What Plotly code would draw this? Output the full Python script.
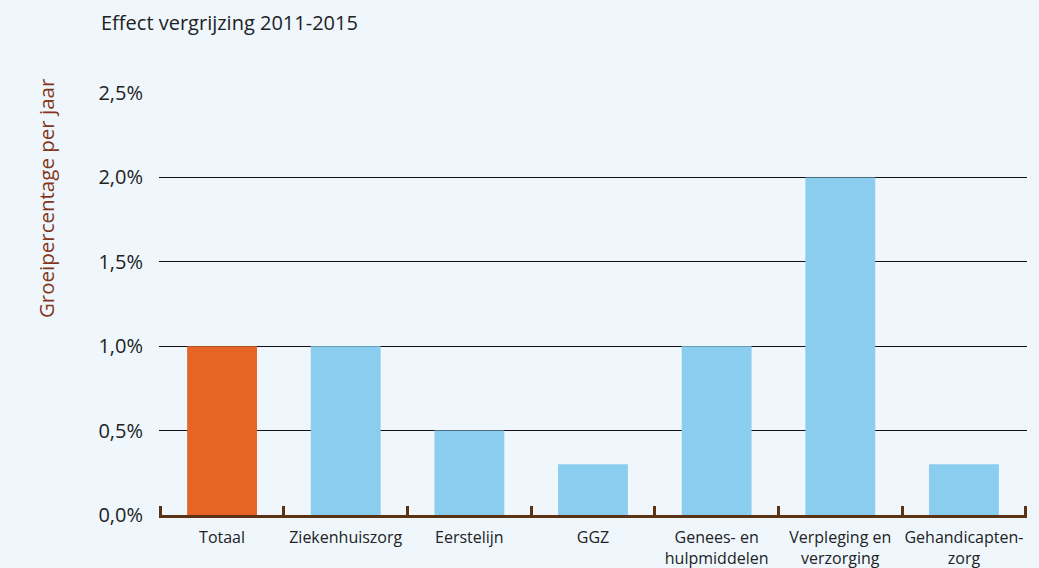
import plotly.graph_objects as go

categories = ["Totaal", "Ziekenhuiszorg", "Eerstelijn", "GGZ",
              "Genees- en<br>hulpmiddelen", "Verpleging en<br>verzorging",
              "Gehandicapten-<br>zorg"]
values = [1.0, 1.0, 0.5, 0.3, 1.0, 2.0, 0.3]
bar_colors = ["#e66526", "#8bcdee", "#8bcdee", "#8bcdee", "#8bcdee", "#8bcdee", "#8bcdee"]
y_tickvals = [0, 0.5, 1.0, 1.5, 2.0, 2.5]
y_ticktext = ["0,0%", "0,5%", "1,0%", "1,5%", "2,0%", "2,5%"]

bg = "#eff7fd"
font_family = "Open Sans, Noto Sans, sans-serif"

fig = go.Figure(go.Bar(
    x=categories, y=values, marker_color=bar_colors, marker_line_width=0,
    hoverinfo="x+y",
))

fig.update_layout(
    width=1039, height=568,
    paper_bgcolor=bg, plot_bgcolor=bg,
    margin=dict(l=159, r=12, t=93, b=53, autoexpand=False),
    bargap=0.435,
    showlegend=False,
    font=dict(family=font_family, color="#222222"),
    annotations=[
        dict(
            text="Effect vergrijzing 2011-2015", xref="paper", yref="paper",
            x=-0.069, y=1.0, yshift=71, xanchor="left", yanchor="middle",
            showarrow=False, font=dict(size=20, color="#222222", family=font_family),
        ),
        dict(
            text="Groeipercentage per jaar", xref="paper", yref="paper",
            x=0, xshift=-113, y=0.751, xanchor="center", yanchor="middle",
            textangle=-90, showarrow=False,
            font=dict(size=20.5, color="#833619", family=font_family),
        ),
    ],
)

fig.update_xaxes(
    range=[-0.51, 6.51], automargin=False, tickangle=0,
    showline=True, linecolor="#5a3314", linewidth=3,
    ticks="inside", tickson="boundaries", ticklen=9, tickwidth=3, tickcolor="#5a3314",
    tickfont=dict(size=16, color="#222222"),
    ticklabelstandoff=6,
    showgrid=False,
)

fig.update_yaxes(
    range=[0, 2.5], tickvals=y_tickvals, ticktext=y_ticktext, automargin=False,
    showgrid=True, gridcolor="#111111", gridwidth=1, zeroline=False,
    tickfont=dict(size=20, color="#222222"),
    ticks="outside", ticklen=11, tickcolor="rgba(0,0,0,0)",
)

fig.write_html(
    "out.html",
    config={"displayModeBar": False},
    post_script="document.body.style.margin='0';document.body.style.background='" + bg + "';",
)
